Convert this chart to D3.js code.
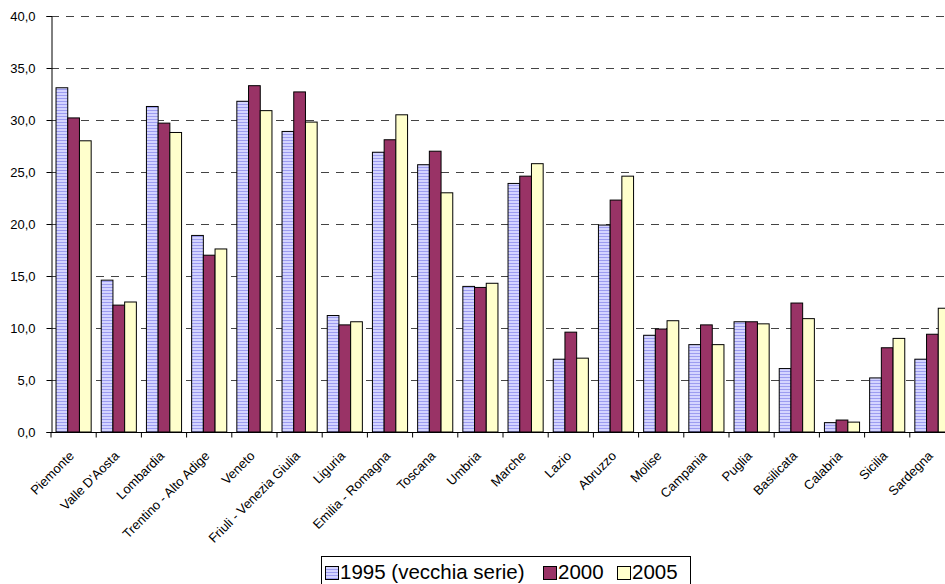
<!DOCTYPE html>
<html><head><meta charset="utf-8">
<script src="https://cdn.jsdelivr.net/npm/d3@7"></script>
<style>body{margin:0;background:#fff}svg{display:block;font-family:"Liberation Sans",Arial,sans-serif}</style>
</head><body><svg id="c" width="945" height="584"></svg>
<script>
const categories = ["Piemonte","Valle D'Aosta","Lombardia","Trentino - Alto Adige","Veneto","Friuli - Venezia Giulia","Liguria","Emilia - Romagna","Toscana","Umbria","Marche","Lazio","Abruzzo","Molise","Campania","Puglia","Basilicata","Calabria","Sicilia","Sardegna"];
const seriesNames = ["1995 (vecchia serie)","2000","2005"];
const v1995 = [33.1,14.6,31.3,18.9,31.8,28.9,11.2,26.9,25.7,14.0,23.9,7.0,19.9,9.3,8.4,10.6,6.1,0.9,5.2,7.0];
const v2000 = [30.2,12.2,29.7,17.0,33.3,32.7,10.3,28.1,27.0,13.9,24.6,9.6,22.3,9.9,10.3,10.6,12.4,1.15,8.1,9.4];
const v2005 = [28.0,12.5,28.8,17.6,30.9,29.8,10.6,30.5,23.0,14.3,25.8,7.1,24.6,10.7,8.4,10.4,10.9,0.95,9.0,11.9];
const yTicks = [0,5,10,15,20,25,30,35,40];
const seriesValues = [v1995, v2000, v2005];

const svg = d3.select("#c");
const L = 51, T = 16, B = 432, R = 51 + 20*45.2;
const defs = svg.append("defs");
const pat = defs.append("pattern").attr("id","stripes").attr("patternUnits","userSpaceOnUse").attr("width",4).attr("height",3);
pat.append("rect").attr("width",4).attr("height",3).attr("fill","#d4d4ff");
pat.append("rect").attr("y",2).attr("width",4).attr("height",1).attr("fill","#9c9cf0");
const fills = ["url(#stripes)","#993366","#ffffcc"];

const x0 = d3.scaleBand().domain(categories).range([L,R]).padding(0);
const x1 = d3.scaleBand().domain(seriesNames).range([0,x0.bandwidth()]).paddingInner(0).paddingOuter(0.43);
const y = d3.scaleLinear().domain([0,40]).range([B,T]);

// gridlines
svg.append("g").selectAll("line").data(yTicks.filter(d=>d>0)).join("line")
  .attr("x1",L).attr("x2",R).attr("y1",d=>Math.round(y(d))+0.5).attr("y2",d=>Math.round(y(d))+0.5)
  .attr("stroke","#444").attr("stroke-dasharray","8,7").attr("stroke-width",1);

// bars
const g = svg.append("g");
categories.forEach((c,i)=>{
  seriesNames.forEach((s,j)=>{
    const v = seriesValues[j][i];
    g.append("rect").attr("x",x0(c)+x1(s)).attr("y",y(v)).attr("width",x1.bandwidth()).attr("height",B-y(v))
      .attr("fill",fills[j]).attr("stroke","#000").attr("stroke-width",1);
  });
});

// y axis
const ya = svg.append("g").attr("transform",`translate(${L+0.5},0)`)
  .call(d3.axisLeft(y).tickValues(yTicks).tickSize(5).tickPadding(11).tickFormat(d=>d3.format(".1f")(d).replace(".",",")));
ya.select(".domain").attr("stroke","#000");
ya.selectAll("text").attr("font-size","13px").attr("fill","#000").attr("font-family","Liberation Sans, Arial, sans-serif");

// x axis
const xa = svg.append("g").attr("transform",`translate(0,${B+0.5})`);
xa.append("line").attr("x1",L).attr("x2",R).attr("stroke","#000");
xa.selectAll("line.t").data(d3.range(categories.length+1)).join("line").attr("class","t")
  .attr("x1",d=>L+d*x0.step()).attr("x2",d=>L+d*x0.step()).attr("y1",0).attr("y2",5).attr("stroke","#000");
xa.selectAll("text").data(categories).join("text")
  .attr("transform",d=>`translate(${x0(d)+x0.bandwidth()/2-2},21) rotate(-45)`)
  .attr("text-anchor","end").attr("font-size","13px").attr("fill","#000").attr("dy","0.35em").text(d=>d);

// legend
const lg = svg.append("g");
lg.append("rect").attr("x",321.5).attr("y",556.5).attr("width",369).attr("height",30).attr("fill","#fff").attr("stroke","#000");
const swX = [325, 543, 617];
seriesNames.forEach((s,j)=>{
  lg.append("rect").attr("x",swX[j]+0.5).attr("y",566.5).attr("width",13).attr("height",13).attr("fill",fills[j]).attr("stroke","#000");
  lg.append("text").attr("x",swX[j]+15).attr("y",579).attr("font-size","20.5px").attr("fill","#000").text(s);
});
</script></body></html>
